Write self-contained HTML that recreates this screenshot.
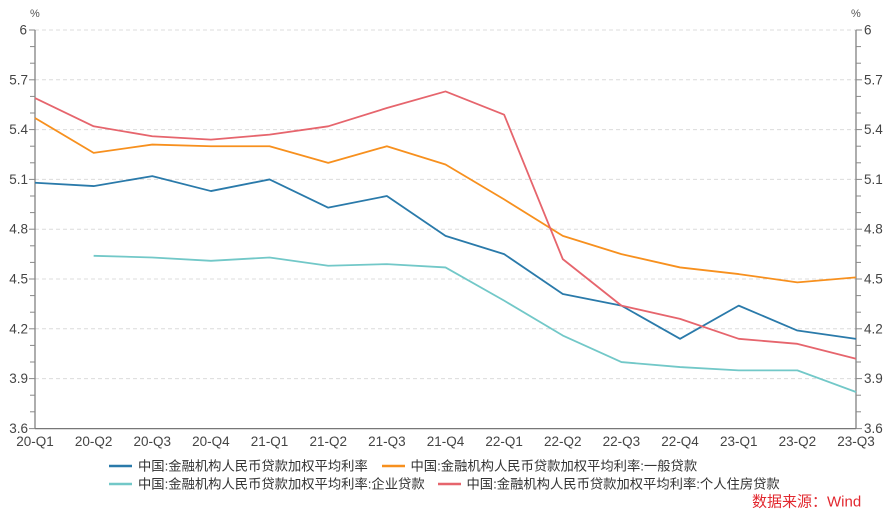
<!DOCTYPE html>
<html>
<head>
<meta charset="utf-8">
<style>
html,body{margin:0;padding:0;background:#fff;}
svg{display:block;}
text{font-family:"Liberation Sans","Noto Sans CJK SC",sans-serif;}
</style>
</head>
<body>
<svg width="892" height="518" viewBox="0 0 892 518" xmlns="http://www.w3.org/2000/svg">
  <rect width="892" height="518" fill="#fff"/>
  <!-- gridlines -->
  <g stroke="#dcdcdc" stroke-width="1" stroke-dasharray="4,3">
    <line x1="35" y1="30" x2="856" y2="30"/>
    <line x1="35" y1="79.8" x2="856" y2="79.8"/>
    <line x1="35" y1="129.6" x2="856" y2="129.6"/>
    <line x1="35" y1="179.4" x2="856" y2="179.4"/>
    <line x1="35" y1="229.2" x2="856" y2="229.2"/>
    <line x1="35" y1="279" x2="856" y2="279"/>
    <line x1="35" y1="328.8" x2="856" y2="328.8"/>
    <line x1="35" y1="378.6" x2="856" y2="378.6"/>
  </g>
  <!-- axes -->
  <g stroke="#777" stroke-width="1.2">
    <line x1="35" y1="30" x2="35" y2="428.6"/>
    <line x1="856" y1="30" x2="856" y2="428.6"/>
    <line x1="35" y1="428.6" x2="856" y2="428.6"/>
  </g>
  <!-- y ticks -->
  <g stroke="#888" stroke-width="1">
    <line x1="29" y1="30" x2="35" y2="30"/><line x1="856" y1="30" x2="862" y2="30"/>
    <line x1="30" y1="46.6" x2="35" y2="46.6"/><line x1="856" y1="46.6" x2="861" y2="46.6"/>
    <line x1="30" y1="63.2" x2="35" y2="63.2"/><line x1="856" y1="63.2" x2="861" y2="63.2"/>
    <line x1="29" y1="79.8" x2="35" y2="79.8"/><line x1="856" y1="79.8" x2="862" y2="79.8"/>
    <line x1="30" y1="96.4" x2="35" y2="96.4"/><line x1="856" y1="96.4" x2="861" y2="96.4"/>
    <line x1="30" y1="113" x2="35" y2="113"/><line x1="856" y1="113" x2="861" y2="113"/>
    <line x1="29" y1="129.6" x2="35" y2="129.6"/><line x1="856" y1="129.6" x2="862" y2="129.6"/>
    <line x1="30" y1="146.2" x2="35" y2="146.2"/><line x1="856" y1="146.2" x2="861" y2="146.2"/>
    <line x1="30" y1="162.8" x2="35" y2="162.8"/><line x1="856" y1="162.8" x2="861" y2="162.8"/>
    <line x1="29" y1="179.4" x2="35" y2="179.4"/><line x1="856" y1="179.4" x2="862" y2="179.4"/>
    <line x1="30" y1="196" x2="35" y2="196"/><line x1="856" y1="196" x2="861" y2="196"/>
    <line x1="30" y1="212.6" x2="35" y2="212.6"/><line x1="856" y1="212.6" x2="861" y2="212.6"/>
    <line x1="29" y1="229.2" x2="35" y2="229.2"/><line x1="856" y1="229.2" x2="862" y2="229.2"/>
    <line x1="30" y1="245.8" x2="35" y2="245.8"/><line x1="856" y1="245.8" x2="861" y2="245.8"/>
    <line x1="30" y1="262.4" x2="35" y2="262.4"/><line x1="856" y1="262.4" x2="861" y2="262.4"/>
    <line x1="29" y1="279" x2="35" y2="279"/><line x1="856" y1="279" x2="862" y2="279"/>
    <line x1="30" y1="295.6" x2="35" y2="295.6"/><line x1="856" y1="295.6" x2="861" y2="295.6"/>
    <line x1="30" y1="312.2" x2="35" y2="312.2"/><line x1="856" y1="312.2" x2="861" y2="312.2"/>
    <line x1="29" y1="328.8" x2="35" y2="328.8"/><line x1="856" y1="328.8" x2="862" y2="328.8"/>
    <line x1="30" y1="345.4" x2="35" y2="345.4"/><line x1="856" y1="345.4" x2="861" y2="345.4"/>
    <line x1="30" y1="362" x2="35" y2="362"/><line x1="856" y1="362" x2="861" y2="362"/>
    <line x1="29" y1="378.6" x2="35" y2="378.6"/><line x1="856" y1="378.6" x2="862" y2="378.6"/>
    <line x1="30" y1="395.2" x2="35" y2="395.2"/><line x1="856" y1="395.2" x2="861" y2="395.2"/>
    <line x1="30" y1="411.8" x2="35" y2="411.8"/><line x1="856" y1="411.8" x2="861" y2="411.8"/>
    <line x1="29" y1="428.6" x2="35" y2="428.6"/><line x1="856" y1="428.6" x2="862" y2="428.6"/>
  </g>
  <!-- x ticks -->
  <g stroke="#999" stroke-width="1" id="xt"></g>
  <!-- y labels -->
  <g font-size="13.5" fill="#444" text-anchor="end">
    <text x="27" y="34.5">6</text>
    <text x="28" y="84.3">5.7</text>
    <text x="28" y="134.1">5.4</text>
    <text x="28" y="183.9">5.1</text>
    <text x="28" y="233.7">4.8</text>
    <text x="28" y="283.5">4.5</text>
    <text x="28" y="333.3">4.2</text>
    <text x="28" y="383.1">3.9</text>
    <text x="28" y="433.1">3.6</text>
  </g>
  <g font-size="13.5" fill="#444" text-anchor="start">
    <text x="864" y="34.5">6</text>
    <text x="864" y="84.3">5.7</text>
    <text x="864" y="134.1">5.4</text>
    <text x="864" y="183.9">5.1</text>
    <text x="864" y="233.7">4.8</text>
    <text x="864" y="283.5">4.5</text>
    <text x="864" y="333.3">4.2</text>
    <text x="864" y="383.1">3.9</text>
    <text x="864" y="433.1">3.6</text>
  </g>
  <text x="30" y="17" font-size="11" fill="#555">%</text>
  <text x="851" y="17" font-size="11" fill="#555">%</text>
  <!-- x labels -->
  <g font-size="13.5" fill="#444" text-anchor="middle">
    <text x="35" y="446">20-Q1</text>
    <text x="93.64" y="446">20-Q2</text>
    <text x="152.29" y="446">20-Q3</text>
    <text x="210.93" y="446">20-Q4</text>
    <text x="269.57" y="446">21-Q1</text>
    <text x="328.21" y="446">21-Q2</text>
    <text x="386.86" y="446">21-Q3</text>
    <text x="445.5" y="446">21-Q4</text>
    <text x="504.14" y="446">22-Q1</text>
    <text x="562.79" y="446">22-Q2</text>
    <text x="621.43" y="446">22-Q3</text>
    <text x="680.07" y="446">22-Q4</text>
    <text x="738.71" y="446">23-Q1</text>
    <text x="797.36" y="446">23-Q2</text>
    <text x="856" y="446">23-Q3</text>
  </g>
  <!-- series -->
  <g fill="none" stroke-width="1.8" stroke-linejoin="round">
    <polyline stroke="#72c8c8" points="93.64,255.81 152.29,257.47 210.93,260.8 269.57,257.47 328.21,265.78 386.86,264.12 445.5,267.44 504.14,300.65 562.79,335.51 621.43,362.08 680.07,367.06 738.71,370.38 797.36,370.38 856,391.97"/>
    <polyline stroke="#f7901e" points="35,118 93.64,152.87 152.29,144.57 210.93,146.23 269.57,146.23 328.21,162.83 386.86,146.23 445.5,164.49 504.14,199.36 562.79,235.89 621.43,254.15 680.07,267.44 738.71,274.08 797.36,282.38 856,277.4"/>
    <polyline stroke="#2a7aaa" points="35,182.76 93.64,186.08 152.29,176.12 210.93,191.06 269.57,179.44 328.21,207.66 386.86,196.04 445.5,235.89 504.14,254.15 562.79,294 621.43,305.63 680.07,338.83 738.71,305.63 797.36,330.53 856,338.83"/>
    <polyline stroke="#e6656d" points="35,98.08 93.64,126.3 152.29,136.27 210.93,139.59 269.57,134.61 328.21,126.3 386.86,108.04 445.5,91.43 504.14,114.68 562.79,259.14 621.43,305.63 680.07,318.91 738.71,338.83 797.36,343.82 856,358.76"/>
  </g>
  <!-- legend -->
  <g stroke-width="2.5">
    <line x1="109" y1="466" x2="132" y2="466" stroke="#2a7aaa"/>
    <line x1="382" y1="466" x2="405" y2="466" stroke="#f7901e"/>
    <line x1="109" y1="484" x2="132" y2="484" stroke="#72c8c8"/>
    <line x1="438" y1="484" x2="461" y2="484" stroke="#e6656d"/>
  </g>
  <g font-size="13.3" fill="#333">
    <text x="138" y="470.5">中国:金融机构人民币贷款加权平均利率</text>
    <text x="410.5" y="470.5">中国:金融机构人民币贷款加权平均利率:一般贷款</text>
    <text x="138" y="488.5">中国:金融机构人民币贷款加权平均利率:企业贷款</text>
    <text x="466.5" y="488.5">中国:金融机构人民币贷款加权平均利率:个人住房贷款</text>
  </g>
  <text x="752" y="506.5" font-size="15" fill="#e2282f">数据来源：Wind</text>
  <script>
    (function(){
      var g=document.getElementById('xt');var s='';
      for(var k=0;k<=42;k++){
        var x=35+k*821/42;var len=(k%3===0)?6:5;
        s+='<line x1="'+x.toFixed(2)+'" y1="428.6" x2="'+x.toFixed(2)+'" y2="'+(428.6+len)+'"/>';
      }
      g.innerHTML=s;
    })();
  </script>
</svg>
</body>
</html>
